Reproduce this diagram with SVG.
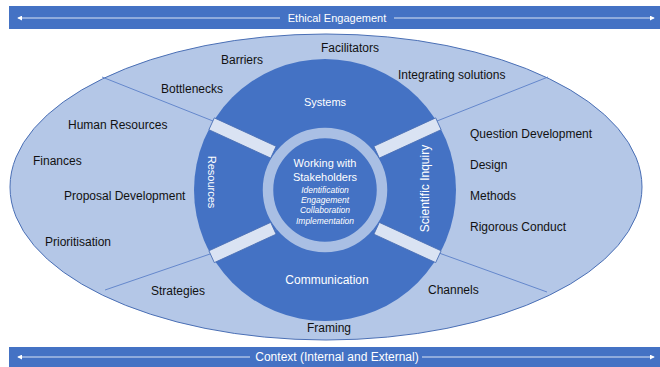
<svg xmlns="http://www.w3.org/2000/svg" width="660" height="367" viewBox="0 0 660 367">
<defs>
<style>
.lbl{font-family:"Liberation Sans",Arial,sans-serif;font-size:12px;fill:#111}
.wl{font-family:"Liberation Sans",Arial,sans-serif;fill:#fff}
.it{font-family:"Liberation Sans",Arial,sans-serif;font-size:8.5px;font-style:italic;fill:#fff;text-anchor:middle}
.bar{fill:#dae3f3;stroke:#4a6fb5;stroke-width:0.8}
.div{stroke:#5b80c8;stroke-width:0.9;fill:none}
.bline{stroke:#dbe4f4;stroke-width:1;fill:none}
</style>
<marker id="ah" viewBox="0 0 6 6" refX="5" refY="3" markerWidth="5" markerHeight="5" orient="auto-start-reverse">
<path d="M0,0 L6,3 L0,6 z" fill="#ffffff"/>
</marker>
</defs>
<rect width="660" height="367" fill="#ffffff"/>

<g id="banner-top">
<rect x="9" y="6" width="651" height="23" fill="#4472c4"/>
<line class="bline" x1="18" y1="18" x2="280" y2="18" marker-start="url(#ah)"/>
<line class="bline" x1="394" y1="18" x2="654" y2="18" marker-end="url(#ah)"/>
<text class="wl" x="337" y="22" font-size="11" text-anchor="middle">Ethical Engagement</text>
</g>

<g id="banner-bottom">
<rect x="9" y="347" width="651" height="20" fill="#4472c4"/>
<line class="bline" x1="18" y1="357" x2="250" y2="357" marker-start="url(#ah)"/>
<line class="bline" x1="422" y1="357" x2="654" y2="357" marker-end="url(#ah)"/>
<text class="wl" x="337" y="361" font-size="12" text-anchor="middle">Context (Internal and External)</text>
</g>

<g id="outer-ellipse">
<ellipse cx="326" cy="187" rx="316" ry="153" fill="#b4c7e7" stroke="#4a6fb5" stroke-width="1"/>
</g>

<g id="connectors">
<line class="div" x1="102" y1="77" x2="213" y2="121"/>
<line class="div" x1="548" y1="77" x2="437" y2="121"/>
<line class="div" x1="105" y1="290" x2="213" y2="253"/>
<line class="div" x1="547" y1="292" x2="439" y2="253"/>
</g>

<g id="dark-circle">
<circle cx="325" cy="190" r="131" fill="#4472c4"/>
<g class="div" stroke-width="0.7">
<line x1="272" y1="150" x2="287" y2="154"/>
<line x1="378" y1="150" x2="363" y2="154"/>
<line x1="272" y1="231" x2="287" y2="227"/>
<line x1="378" y1="231" x2="363" y2="227"/>
</g>
</g>

<g id="ring">
<circle cx="325" cy="190" r="57" fill="none" stroke="#a9bfe4" stroke-width="10.5"/>
</g>

<g id="bars">
<rect class="bar" x="-34" y="-6.5" width="68" height="13" transform="translate(242.5,138) rotate(24.7)"/>
<rect class="bar" x="-34" y="-6.5" width="68" height="13" transform="translate(407.5,138) rotate(-24.7)"/>
<rect class="bar" x="-34" y="-6.5" width="68" height="13" transform="translate(242.5,242.5) rotate(-24.7)"/>
<rect class="bar" x="-34" y="-6.5" width="68" height="13" transform="translate(407.5,242.5) rotate(24.7)"/>
</g>

<g id="systems"><text class="wl" x="325" y="106" font-size="11" text-anchor="middle">Systems</text></g>
<g id="communication"><text class="wl" x="327" y="284" font-size="12" text-anchor="middle">Communication</text></g>
<g id="resources"><text class="wl" font-size="11" text-anchor="middle" transform="translate(208,182) rotate(90)">Resources</text></g>
<g id="scientific-inquiry"><text class="wl" font-size="12" text-anchor="middle" transform="translate(429,188.5) rotate(-90)">Scientific Inquiry</text></g>

<g id="center">
<text class="wl" x="325" y="167" font-size="11" text-anchor="middle">Working with</text>
<text class="wl" x="325" y="181" font-size="11" text-anchor="middle">Stakeholders</text>
<text class="it" x="325" y="192.5">Identification</text>
<text class="it" x="325" y="202.5">Engagement</text>
<text class="it" x="325" y="212.5">Collaboration</text>
<text class="it" x="325" y="223.5">Implementation</text>
</g>

<g id="systems-items">
<text class="lbl" x="321" y="52">Facilitators</text>
<text class="lbl" x="221" y="64">Barriers</text>
<text class="lbl" x="398" y="79">Integrating solutions</text>
<text class="lbl" x="161" y="93">Bottlenecks</text>
</g>
<g id="resources-items">
<text class="lbl" x="68" y="129">Human Resources</text>
<text class="lbl" x="33" y="165">Finances</text>
<text class="lbl" x="64" y="200">Proposal Development</text>
<text class="lbl" x="45" y="246">Prioritisation</text>
</g>
<g id="inquiry-items">
<text class="lbl" x="470" y="138">Question Development</text>
<text class="lbl" x="470" y="169">Design</text>
<text class="lbl" x="470" y="200">Methods</text>
<text class="lbl" x="470" y="231">Rigorous Conduct</text>
</g>
<g id="communication-items">
<text class="lbl" x="151" y="295">Strategies</text>
<text class="lbl" x="428" y="294">Channels</text>
<text class="lbl" x="307" y="332">Framing</text>
</g>
</svg>
